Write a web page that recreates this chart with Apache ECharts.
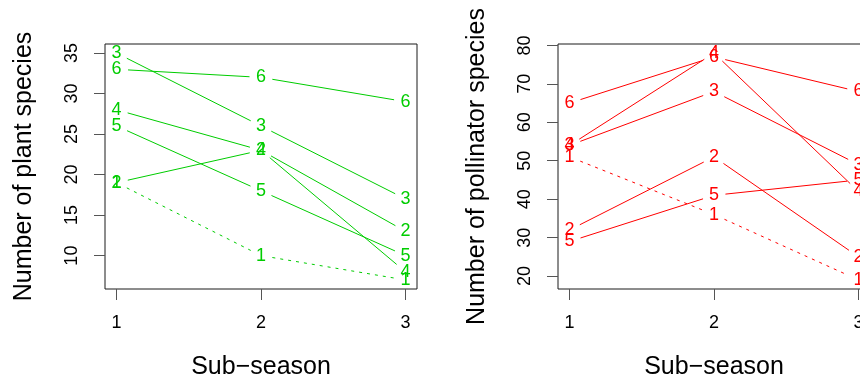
<!DOCTYPE html>
<html><head><meta charset="utf-8">
<script src="https://cdn.jsdelivr.net/npm/echarts@6/dist/echarts.min.js"></script>
<style>html,body{margin:0;padding:0;background:#fff}#c{width:860px;height:384px}</style>
</head><body><div id="c"></div><script>
// ---- data ----
const subSeasons = [1, 2, 3];
const groupNames = ['1', '2', '3', '4', '5', '6'];
const plant1 = [19, 10, 7];
const plant2 = [19, 23, 13];
const plant3 = [35, 26, 17];
const plant4 = [28, 23, 8];
const plant5 = [26, 18, 10];
const plant6 = [33, 32, 29];
const poll1 = [51, 36, 19];
const poll2 = [32, 51, 25];
const poll3 = [54, 68, 49];
const poll4 = [54, 78, 42];
const poll5 = [29, 41, 45];
const poll6 = [65, 77, 68];
const xTicks = [1, 2, 3];
const plantTicks = [10, 15, 20, 25, 30, 35];
const pollTicks = [20, 30, 40, 50, 60, 70, 80];
const dashedGroup = '1';

const plantGroups = [plant1, plant2, plant3, plant4, plant5, plant6];
const pollGroups = [poll1, poll2, poll3, poll4, poll5, poll6];

const FONT = '"Liberation Sans", Arial, Helvetica, sans-serif';
const GREEN = '#00CD00';
const RED = '#FF0000';

function rRange(vals) {
  const lo = Math.min(...vals), hi = Math.max(...vals);
  const d = (hi - lo) * 0.04;
  return [lo - d, hi + d];
}
const xr = rRange(subSeasons);
const plantR = rRange(plantGroups.flat());
const pollR = rRange(pollGroups.flat());

const GAP = 11.5;
function segRender(color, dashed) {
  return function (params, api) {
    const p0 = api.coord([api.value(0), api.value(1)]);
    const p1 = api.coord([api.value(2), api.value(3)]);
    const dx = p1[0] - p0[0], dy = p1[1] - p0[1];
    const len = Math.sqrt(dx * dx + dy * dy);
    if (len <= 2 * GAP) return null;
    const ux = dx / len, uy = dy / len;
    return {
      type: 'line',
      shape: { x1: p0[0] + ux * GAP, y1: p0[1] + uy * GAP, x2: p1[0] - ux * GAP, y2: p1[1] - uy * GAP },
      style: { stroke: color, lineWidth: 1, lineDash: dashed ? [3, 5] : null }
    };
  };
}
function textRender(name, color) {
  return function (params, api) {
    const p = api.coord([api.value(0), api.value(1)]);
    return {
      type: 'text', x: p[0], y: p[1],
      style: { text: name, fill: color, fontSize: 18, fontFamily: FONT, align: 'center', verticalAlign: 'middle' }
    };
  };
}

const series = [];
function addPanel(groups, color, idx) {
  groups.forEach((vals, g) => {
    const name = groupNames[g];
    const segs = [];
    for (let i = 0; i < subSeasons.length - 1; i++) {
      segs.push([subSeasons[i], vals[i], subSeasons[i + 1], vals[i + 1]]);
    }
    series.push({
      type: 'custom', xAxisIndex: idx, yAxisIndex: idx, silent: true, animation: false,
      data: segs, renderItem: segRender(color, name === dashedGroup)
    });
    series.push({
      type: 'custom', xAxisIndex: idx, yAxisIndex: idx, silent: true, animation: false,
      data: subSeasons.map((s, i) => [s, vals[i]]), renderItem: textRender(name, color)
    });
  });
}
addPanel(plantGroups, GREEN, 0);
addPanel(pollGroups, RED, 1);

function xAxisDef(idx) {
  return {
    gridIndex: idx, type: 'value', min: xr[0], max: xr[1],
    axisLine: { show: false }, splitLine: { show: false },
    axisTick: { show: true, length: 11, lineStyle: { color: '#555', width: 1 }, customValues: xTicks },
    axisLabel: { customValues: xTicks, margin: 25, fontSize: 18, color: '#000', fontFamily: FONT }
  };
}
function yAxisDef(idx, r, ticks) {
  return {
    gridIndex: idx, type: 'value', min: r[0], max: r[1],
    axisLine: { show: false }, splitLine: { show: false },
    axisTick: { show: true, length: 11, lineStyle: { color: '#555', width: 1 }, customValues: ticks },
    axisLabel: { customValues: ticks, rotate: 90, margin: 24, fontSize: 18, color: '#000', fontFamily: FONT }
  };
}
function gridDef(left) {
  return { left: left, top: 44, width: 312, height: 245, show: true, borderColor: '#1a1a1a', borderWidth: 1,
           backgroundColor: 'transparent', containLabel: false, outerBoundsMode: 'none' };
}
function titleText(x, y, text, rot) {
  return { type: 'text', x: x, y: y, rotation: rot, silent: true,
           style: { text: text, fill: '#000', fontSize: 25, fontFamily: FONT, align: 'center', verticalAlign: 'middle' } };
}

const chart = echarts.init(document.getElementById('c'), null, { renderer: 'canvas' });
chart.setOption({
  animation: false,
  backgroundColor: '#fff',
  grid: [gridDef(105), gridDef(558)],
  xAxis: [xAxisDef(0), xAxisDef(1)],
  yAxis: [yAxisDef(0, plantR, plantTicks), yAxisDef(1, pollR, pollTicks)],
  series: series,
  graphic: [
    titleText(24, 166.5, 'Number of plant species', Math.PI / 2),
    titleText(477, 166.5, 'Number of pollinator species', Math.PI / 2),
    titleText(261, 367, 'Sub\u2212season', 0),
    titleText(714, 367, 'Sub\u2212season', 0)
  ]
});
</script></body></html>
